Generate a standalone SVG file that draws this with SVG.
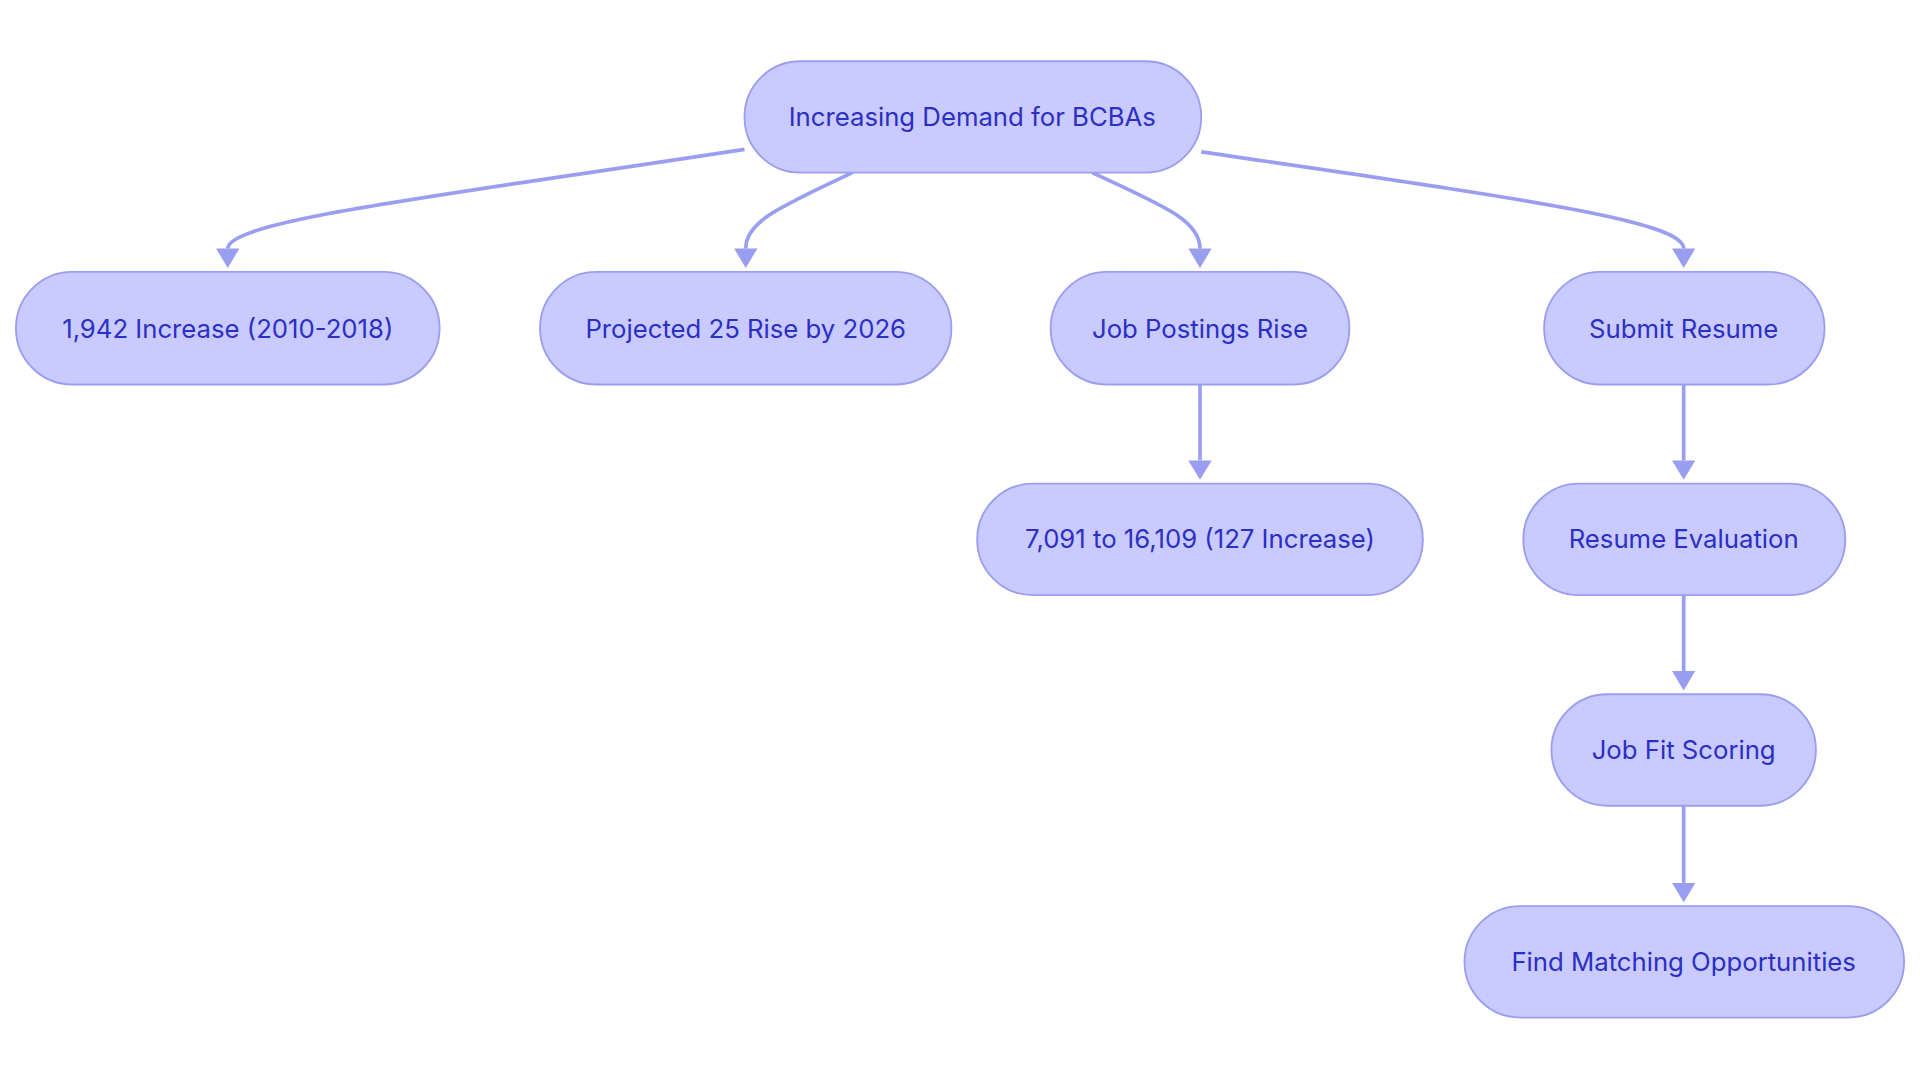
<svg xmlns="http://www.w3.org/2000/svg" width="1920" height="1083" viewBox="0 0 1920 1083">
<style>
.n{fill:#c9caff;stroke:#9a9ef0;stroke-width:1.5}
.t{font-family:Inter,"Noto Sans",sans-serif;font-size:21px;fill:#2b2fc4;text-anchor:middle;dominant-baseline:central}
.e{fill:none;stroke:#9a9ef0;stroke-width:3}
</style>
<defs><marker id="a" viewBox="0 0 10 10" refX="5" refY="10" markerWidth="6" markerHeight="6" markerUnits="userSpaceOnUse" orient="auto"><path d="M0,0L10,0L5,10z" fill="#9a9ef0"/></marker>
<marker id="m" viewBox="0 0 12 10" refX="6" refY="0" markerWidth="19" markerHeight="16" markerUnits="userSpaceOnUse" orient="0"><path d="M0,0L12,0L6,10z" fill="#9a9ef0"/></marker></defs>
<rect width="1920" height="1083" fill="#fff"/>
<g transform="scale(1.2245)">
<g id="edges">
<path class="e" marker-end="url(#m)" d="M608,122 C360,160 186,180 186,203"/>
<path class="e" marker-end="url(#m)" d="M696,141 C640,168 609,180 609,203"/>
<path class="e" marker-end="url(#m)" d="M892,141 C950,168 980,180 980,203"/>
<path class="e" marker-end="url(#m)" d="M981,124 C1240,162 1375,180 1375,203"/>
<path class="e" marker-end="url(#m)" d="M980,314 L980,376"/>
<path class="e" marker-end="url(#m)" d="M1375,314 L1375,376"/>
<path class="e" marker-end="url(#m)" d="M1375,486 L1375,548"/>
<path class="e" marker-end="url(#m)" d="M1375,658 L1375,721"/>
</g>
<g id="root"><rect class="n" x="608" y="50" width="373" height="91" rx="45.5"/><text class="t" x="794" y="95">Increasing Demand for BCBAs</text></g>
<g id="n1"><rect class="n" x="13" y="222" width="346" height="92" rx="46"/><text class="t" x="186" y="268">1,942 Increase (2010-2018)</text></g>
<g id="n2"><rect class="n" x="441" y="222" width="336" height="92" rx="46"/><text class="t" x="609" y="268">Projected 25 Rise by 2026</text></g>
<g id="n3"><rect class="n" x="858" y="222" width="244" height="92" rx="46"/><text class="t" x="980" y="268">Job Postings Rise</text></g>
<g id="n4"><rect class="n" x="1261" y="222" width="229" height="92" rx="46"/><text class="t" x="1375" y="268">Submit Resume</text></g>
<g id="n5"><rect class="n" x="798" y="395" width="364" height="91" rx="45.5"/><text class="t" x="980" y="440">7,091 to 16,109 (127 Increase)</text></g>
<g id="n6"><rect class="n" x="1244" y="395" width="263" height="91" rx="45.5"/><text class="t" x="1375" y="440">Resume Evaluation</text></g>
<g id="n7"><rect class="n" x="1267" y="567" width="216" height="91" rx="45.5"/><text class="t" x="1375" y="612">Job Fit Scoring</text></g>
<g id="n8"><rect class="n" x="1196" y="740" width="359" height="91" rx="45.5"/><text class="t" x="1375" y="785">Find Matching Opportunities</text></g>
</g>
</svg>
